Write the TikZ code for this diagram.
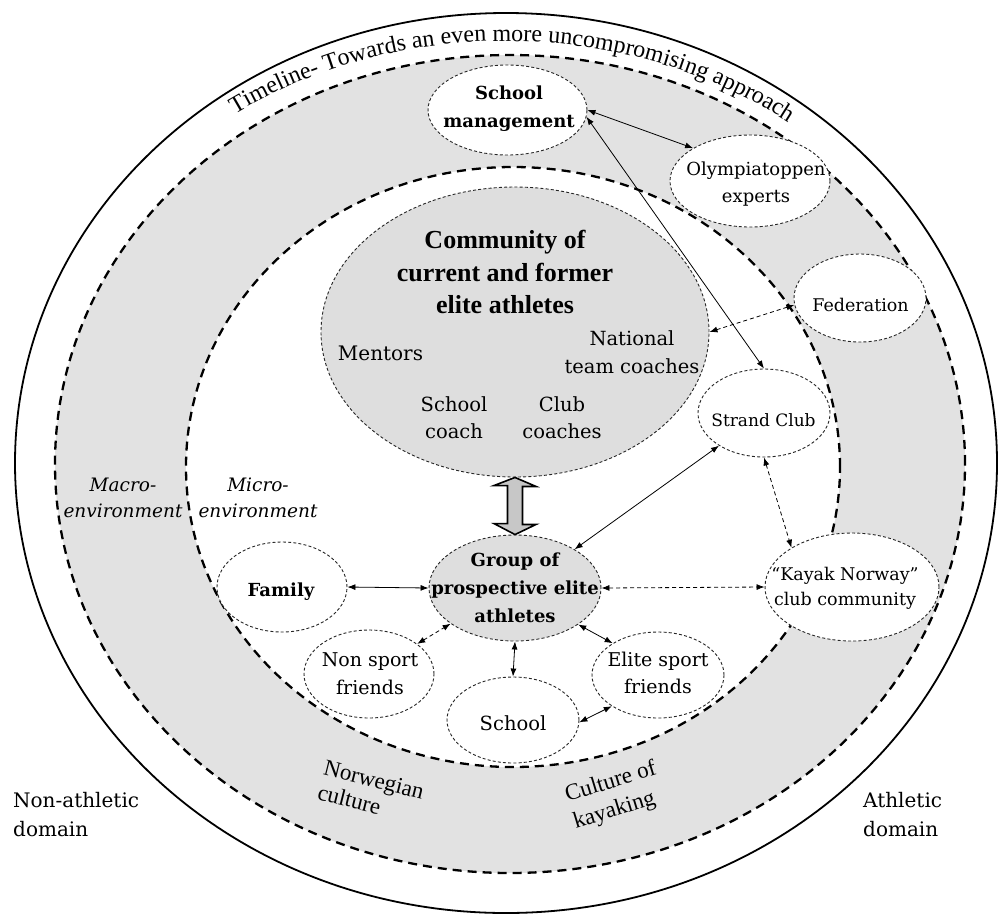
\documentclass[tikz,border=0pt]{standalone}
\usepackage{fontspec}
\setmainfont{Liberation Serif}
\newfontfamily\cent{DejaVu Serif}
\usetikzlibrary{shapes.geometric,arrows.meta,decorations.text,calc}

\definecolor{ringgray}{gray}{0.885}
\definecolor{blobgray}{gray}{0.87}
\definecolor{arrowgray}{gray}{0.78}

\newcommand\fsz[2]{\fontsize{#1}{#2}\selectfont}

\tikzset{
  ring/.style={line width=2.3pt, dash pattern=on 9pt off 6pt},
  place/.style={ellipse, draw=black!85, line width=0.9pt,
    dash pattern=on 3pt off 2.2pt, inner sep=0pt, fill=white},
  hub/.style={place, fill=blobgray},
  tip/.tip={Latex[length=8pt,width=6pt]},
  link/.style={line width=0.8pt, tip-tip},
  dlink/.style={link, dash pattern=on 4pt off 3pt},
  lab/.style={inner sep=0pt, align=center},
}

\begin{document}
\begin{tikzpicture}[x=1pt,y=-1pt]
\useasboundingbox (0,0) rectangle (1001,914);

% environment rings
\fill[ringgray] (510,464) ellipse[x radius=455pt, y radius=409pt];
\fill[white] (513,467) ellipse[x radius=327pt, y radius=300pt];
\draw[ring] (510,464) ellipse[x radius=455pt, y radius=409pt];
\draw[ring] (513,467) ellipse[x radius=327pt, y radius=300pt];
\draw[line width=1.8pt] (506,463) ellipse[x radius=491pt, y radius=450pt];

% timeline along the top of the outer band
\coordinate (ctr) at (505,463);
\path[decorate, decoration={text along path, text align=center,
  text={|\fsz{24}{28}|Timeline- Towards an even more uncompromising approach}}]
  ($(ctr)+(134:480pt and 422pt)$)
  arc[start angle=134, end angle=44, x radius=480pt, y radius=422pt];

% actors
\node[place, minimum width=159pt, minimum height=90pt] (sm) at (507.5,110) {};
\node[place, minimum width=160pt, minimum height=92pt] (oly) at (750,181) {};
\node[place, minimum width=132pt, minimum height=88pt] (fed) at (860,298) {};
\node[hub, minimum width=388pt, minimum height=290pt] (com) at (515,332) {};
\node[place, minimum width=132pt, minimum height=88pt] (str) at (764,413) {};
\node[place, minimum width=174pt, minimum height=108pt] (kay) at (852,587) {};
\node[hub, minimum width=172pt, minimum height=106pt] (grp) at (515,588) {};
\node[place, minimum width=130pt, minimum height=90pt] (fam) at (282,587) {};
\node[place, minimum width=130pt, minimum height=88pt] (nsf) at (369,674) {};
\node[place, minimum width=132pt, minimum height=86pt] (esf) at (658,675) {};
\node[place, minimum width=132pt, minimum height=86pt] (sch) at (513,720) {};

% labels
\node[lab, font=\cent\bfseries\fsz{18}{28}] (smlab) at (509,109) {School\\management};
\node[lab, font=\cent\fsz{18}{27}] (olylab) at (756,184) {Olympiatoppen\\experts};
\node[lab, font=\cent\fsz{17.5}{21}, anchor=base] (fedlab) at (860.5,311) {Federation};
\node[lab, font=\bfseries\fsz{26}{32.5}] (comlab) at (505,272) {Community of\\current and former\\elite athletes};
\node[lab, font=\cent\fsz{20}{24}, anchor=base] (mentlab) at (380.5,360) {Mentors};
\node[lab, font=\cent\fsz{19.5}{28}] (ntclab) at (632,352) {National\\team coaches};
\node[lab, font=\cent\fsz{19.5}{27}] (sclab) at (454,418) {School\\coach};
\node[lab, font=\cent\fsz{19.5}{27}] (cclab) at (562,418) {Club\\coaches};
\node[lab, font=\cent\fsz{17}{21}, anchor=base] (strlab) at (763.5,426) {Strand Club};
\node[lab, font=\cent\fsz{17.5}{25}] (kaylab) at (845,588) {“Kayak Norway”\\club community};
\node[lab, font=\cent\bfseries\fsz{18}{28}] (grplab) at (515,588) {Group of\\prospective elite\\athletes};
\node[lab, font=\cent\bfseries\fsz{18}{22}, anchor=base] (famlab) at (281,596) {Family};
\node[lab, font=\cent\fsz{19}{28}] (nsflab) at (370,674) {Non sport\\friends};
\node[lab, font=\cent\fsz{19}{27}] (esflab) at (658,673) {Elite sport\\friends};
\node[lab, font=\cent\fsz{19.5}{23}, anchor=base] (schlab) at (513,730) {School};
\node[lab, font=\cent\itshape\fsz{18.5}{26}] (macrolab) at (123,498) {Macro-\\environment};
\node[lab, font=\cent\itshape\fsz{18.5}{26}] (microlab) at (258,498) {Micro-\\environment};
\node[lab, align=left, font=\fsz{23}{25}, rotate=-14] (norlab) at (371,792) {Norwegian\\culture};
\node[lab, align=left, font=\fsz{23}{28}, rotate=17] (kaklab) at (615,796) {Culture of\\kayaking};
\node[lab, align=left, font=\cent\fsz{20}{29}, anchor=west] (nonlab) at (13,815) {Non-athletic\\domain};
\node[lab, align=left, font=\cent\fsz{20}{29}, anchor=west] (athlab) at (863,815) {Athletic\\domain};

% exchange between the community and the group
\draw[line width=1.6pt, fill=arrowgray] (com.south) -- ++(21,9) -- ++(-13.5,0)
  -- ++(0,38) -- ++(13.5,0) -- (grp.north) -- ++(-21,-11) -- ++(13.5,0)
  -- ++(0,-38) -- ++(-13.5,0) -- cycle;

% relations
\draw[link] (sm.east) -- (oly.150);
\draw[link] (sm.-5) -- (str.north);
\draw[dlink] (fed.186) -- (com.east);
\draw[link] (str.216) -- (grp.33);
\draw[dlink] (str.south) -- (kay.147);
\draw[dlink] (grp.east) -- (kay.west);
\draw[link] (fam.east) -- (grp.west);
\draw[dlink] (nsf.32) -- (grp.209);
\draw[link] (grp.south) -- (sch.north);
\draw[link] (grp.-30) -- (esf.145);
\draw[link] (sch.-2) -- (esf.214);
\end{tikzpicture}
\end{document}
